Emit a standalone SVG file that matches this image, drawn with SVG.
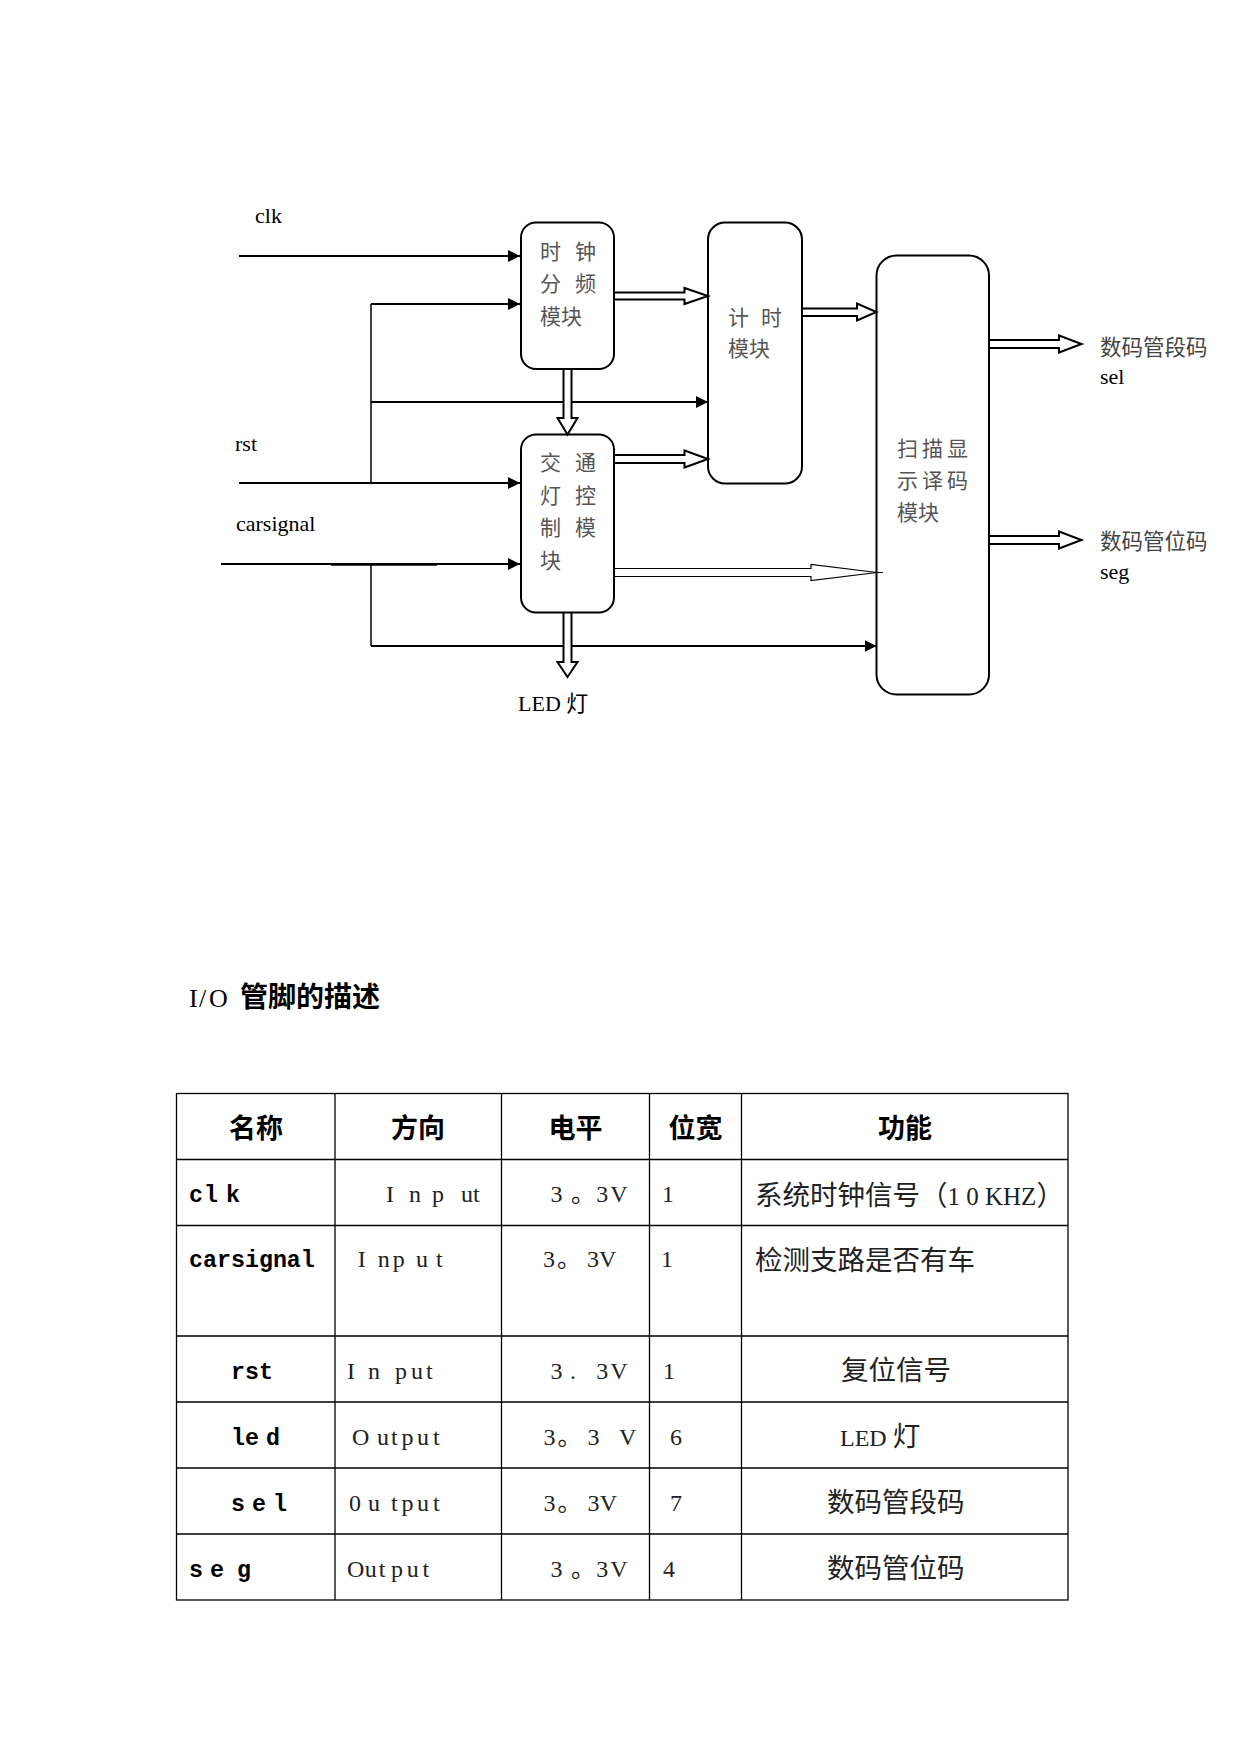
<svg xmlns="http://www.w3.org/2000/svg" width="1241" height="1754" viewBox="0 0 1241 1754">
<style>
.box{fill:none;stroke:#000;stroke-width:2}
.ln{fill:none;stroke:#000;stroke-width:2}
.bus{fill:none;stroke:#000;stroke-width:1.5}
.hol{fill:#fff;stroke:#000;stroke-width:2;stroke-linejoin:miter}
.thin{fill:#fff;stroke:#000;stroke-width:1.2}
.lbl{font-family:"Liberation Serif","Noto Sans CJK SC",serif;font-size:22px;fill:#000}
.bx{font-family:"Noto Sans CJK SC",sans-serif;font-size:21px;fill:#555}
.out{font-family:"Noto Sans CJK SC",sans-serif;font-size:21.5px;fill:#444}
.grid{fill:none;stroke:#000;stroke-width:1.3}
.th{font-family:"Noto Sans CJK SC",sans-serif;font-size:27px;font-weight:700;text-anchor:middle;fill:#000}
.tc{font-family:"Noto Sans CJK SC",sans-serif;font-size:27.5px;fill:#222}
.tl{font-family:"Liberation Serif","Noto Sans CJK SC",serif;font-size:24px;fill:#222}
.tm{font-family:"Liberation Mono",monospace;font-weight:bold;font-size:23.3px;fill:#000}
.title{font-family:"Noto Sans CJK SC",sans-serif;font-size:28px;font-weight:700;fill:#000}
</style>
<defs>
<marker id="ah" markerWidth="12" markerHeight="12" refX="12" refY="6" orient="auto" markerUnits="userSpaceOnUse">
<path d="M0,0 L12,6 L0,12 z" fill="#000"/>
</marker>
</defs>
<rect width="1241" height="1754" fill="#fff"/>

<g id="connectors">
<path class="ln" d="M239,256 H520" marker-end="url(#ah)"/>
<path class="ln" d="M239,483 H520" marker-end="url(#ah)"/>
<path class="ln" d="M221,564 H520" marker-end="url(#ah)"/>
<path class="ln" d="M331,564.8 H437"/>
<path class="bus" d="M371,304 V483"/>
<path class="ln" d="M371,304 H520" marker-end="url(#ah)"/>
<path class="ln" d="M371,402 H708" marker-end="url(#ah)"/>
<path class="bus" d="M371,564 V646"/>
<path class="ln" d="M371,646 H876.5" marker-end="url(#ah)"/>
<path class="hol" d="M614,292.5 H684.5 V288 L708,296 L684.5,304 V299.5 H614"/>
<path class="hol" d="M614,455 H684.5 V450.5 L708,459 L684.5,467.5 V463 H614"/>
<path class="hol" d="M802,308.5 H857 V303.5 L876.5,312 L857,320.5 V316 H802"/>
<path class="hol" d="M989,340 H1059 V335.5 L1081.5,344 L1059,352.5 V348 H989"/>
<path class="hol" d="M989,536 H1059 V531.5 L1081.5,540 L1059,548.5 V544 H989"/>
<path class="hol" d="M563.5,369 V418 H557.5 L567.5,434.5 L577.5,418 H571.5 V369"/>
<path class="hol" d="M563.5,612.5 V662 H557.5 L567.5,677 L577.5,662 H571.5 V612.5"/>
<path class="thin" d="M614,568.5 H811 V564.5 L877,572.5 L811,580.5 V576.5 H614"/>
<path d="M876,572.5 H883" stroke="#000" stroke-width="1"/>
</g>

<g id="node-clkdiv">
<rect class="box" x="521" y="222.5" width="93" height="146.5" rx="15"/>
<text class="bx" x="540 557 575" y="259">时 钟</text>
<text class="bx" x="540 557 575" y="291">分 频</text>
<text class="bx" x="540" y="324">模块</text>
</g>
<g id="node-traffic">
<rect class="box" x="521" y="434.5" width="93" height="178" rx="15"/>
<text class="bx" x="540 557 575" y="469.5">交 通</text>
<text class="bx" x="540 557 575" y="502.5">灯 控</text>
<text class="bx" x="540 557 575" y="535">制 模</text>
<text class="bx" x="540" y="567.5">块</text>
</g>
<g id="node-timer">
<rect class="box" x="708" y="222.5" width="94" height="261" rx="17"/>
<text class="bx" x="728 745 761" y="325">计 时</text>
<text class="bx" x="728" y="356">模块</text>
</g>
<g id="node-scan">
<rect class="box" x="876.5" y="255.5" width="112.5" height="439" rx="20"/>
<text class="bx" x="897 922 947" y="456">扫描显</text>
<text class="bx" x="897 922 947" y="488">示译码</text>
<text class="bx" x="897" y="519.5">模块</text>
</g>

<g id="labels">
<text class="lbl" x="255" y="223">clk</text>
<text class="lbl" x="235" y="451">rst</text>
<text class="lbl" x="236" y="531">carsignal</text>
<text class="lbl" x="518" y="711">LED 灯</text>
<text class="out" x="1100" y="355">数码管段码</text>
<text class="lbl" x="1100" y="384">sel</text>
<text class="out" x="1100" y="549">数码管位码</text>
<text class="lbl" x="1100" y="579">seg</text>
</g>

<g id="title">
<text class="tl" style="font-size:26px;fill:#000" x="189 199 209" y="1006.5">I/O</text>
<text class="title" x="240" y="1007">管脚的描述</text>
</g>

<g id="table">
<rect class="grid" x="176.5" y="1093.5" width="891.5" height="506.5"/>
<path class="grid" d="M335,1093.5 V1600 M501.5,1093.5 V1600 M649.5,1093.5 V1600 M741.5,1093.5 V1600 M176.5,1159.5 H1068 M176.5,1225.5 H1068 M176.5,1336 H1068 M176.5,1402 H1068 M176.5,1468 H1068 M176.5,1534 H1068"/>

<text class="th" x="256" y="1137.5">名称</text>
<text class="th" x="418" y="1137.5">方向</text>
<text class="th" x="575.5" y="1137.5">电平</text>
<text class="th" x="695.5" y="1137.5">位宽</text>
<text class="th" x="905" y="1137.5">功能</text>

<text class="tm" x="189 204 217 226" y="1202">cl k</text>
<text class="tl" x="386 398 409 421 432 447 461" y="1202">I n p ut</text>
<text class="tl" x="550.6 562 571 596.2 610.2" y="1202">3 。3V</text>
<text class="tl" x="662" y="1202">1</text>
<text class="tc" x="755" y="1204.5">系统时钟信号（<tspan class="tl" style="font-size:25px">1 0 KHZ</tspan>）</text>

<text class="tm" x="189" y="1267">carsignal</text>
<text class="tl" x="357.7 370 377.7 392.7 405 416 427 436" y="1267">I np u t</text>
<text class="tl" x="543 557 587 599" y="1267">3。3V</text>
<text class="tl" x="661" y="1267">1</text>
<text class="tc" x="755" y="1269.5">检测支路是否有车</text>

<text class="tm" x="231" y="1379">rst</text>
<text class="tl" x="347 357 368 382 395 411 426" y="1379">I n put</text>
<text class="tl" x="550.6 562 569.9 580 596.2 610.2" y="1379">3 . 3V</text>
<text class="tl" x="663" y="1379">1</text>
<text class="tc" x="841" y="1380">复位信号</text>

<text class="tm" x="231 245 259 266" y="1445">le d</text>
<text class="tl" x="352 366 377 391 401.5 417 433" y="1445">O utput</text>
<text class="tl" x="543.5 557.6 587.4 600 619" y="1445">3。3 V</text>
<text class="tl" x="670" y="1445">6</text>
<text class="tc" x="840" y="1446"><tspan class="tl" style="font-size:24px">LED </tspan>灯</text>

<text class="tm" x="231 242 252 263 273" y="1511">s e l</text>
<text class="tl" x="349 360 368 380 391 401.5 417 433" y="1511">0 u tput</text>
<text class="tl" x="543.5 557.6 587.4 599.7" y="1511">3。3V</text>
<text class="tl" x="670" y="1511">7</text>
<text class="tc" x="827" y="1512">数码管段码</text>

<text class="tm" x="189 210 224 237" y="1577">se g</text>
<text class="tl" x="347 364.7 378.7 391 406.8 422.5" y="1577">Output</text>
<text class="tl" x="550.6 562 571 596.2 610.2" y="1577">3 。3V</text>
<text class="tl" x="663" y="1577">4</text>
<text class="tc" x="827" y="1578">数码管位码</text>
</g>
</svg>
